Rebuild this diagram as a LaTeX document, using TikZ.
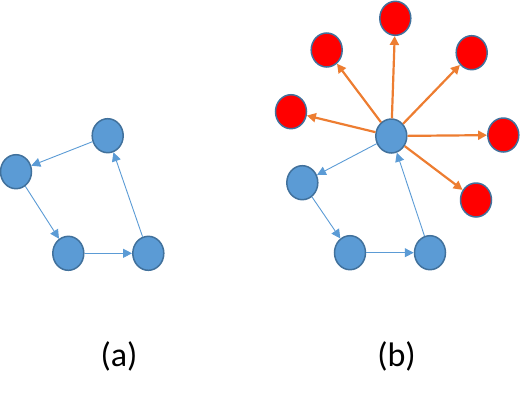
\documentclass[tikz,border=0pt]{standalone}
\usepackage{fontspec}
\setmainfont{Carlito}
\usetikzlibrary{arrows.meta, shapes, positioning}
\definecolor{nodeblue}{HTML}{5B9BD5}
\definecolor{rimblue}{HTML}{41719C}
\definecolor{linkorange}{HTML}{ED7D31}
\tikzset{
  bnode/.style = {ellipse, draw=rimblue, fill=nodeblue, line width=1.5pt,
    inner sep=0pt, minimum width=31pt, minimum height=34pt},
  rnode/.style = {bnode, fill=red},
  blink/.style = {draw=nodeblue, line width=0.9pt,
    -{Triangle[length=9pt, width=9pt]}},
  olink/.style = {draw=linkorange, line width=2.2pt,
    -{Triangle[length=9pt, width=9pt]}}
}

\begin{document}
\begin{tikzpicture}[x=1pt, y=-1pt]

    \useasboundingbox (0,0) rectangle (520,408);

    %% (a) ring of four

    % Nodes
    \node[bnode] (at) at (107.7,135.7) {};
    \node[bnode] (al) at (16,171.7) {};
    \node[bnode] (abl) at (68.3,253.3) {};
    \node[bnode] (abr) at (148.3,253.3) {};

    % Links
    \draw[blink] (at) -- (al);
    \draw[blink] (al) -- (abl);
    \draw[blink] (abl) -- (abr);
    \draw[blink] (abr) -- (at);

    \node (capa) at (119,356) {\fontsize{34}{36}\selectfont (a)};

    %% (b) ring with the hub spreading out

    % Nodes
    \node[bnode] (hub) at (391.3,136) {};
    \node[bnode] (bl) at (302.3,182.7) {};
    \node[bnode] (bbl) at (350,252.7) {};
    \node[bnode] (bbr) at (430,252.7) {};

    % Red nodes
    \node[rnode] (r1) at (291,111.7) {};
    \node[rnode] (r2) at (326.7,50) {};
    \node[rnode] (r3) at (395.3,18.3) {};
    \node[rnode] (r4) at (471.7,52.7) {};
    \node[rnode] (r5) at (503.3,135) {};
    \node[rnode] (r6) at (476,200) {};

    % Links
    \draw[blink] (hub) -- (bl);
    \draw[blink] (bl) -- (bbl);
    \draw[blink] (bbl) -- (bbr);
    \draw[blink] (bbr) -- (hub);
    \foreach \r in {r1, r2, r3, r4, r5, r6}
      \draw[olink] (hub) -- (\r);

    \node (capb) at (396.5,356) {\fontsize{34}{36}\selectfont (b)};

\end{tikzpicture}
\end{document}
